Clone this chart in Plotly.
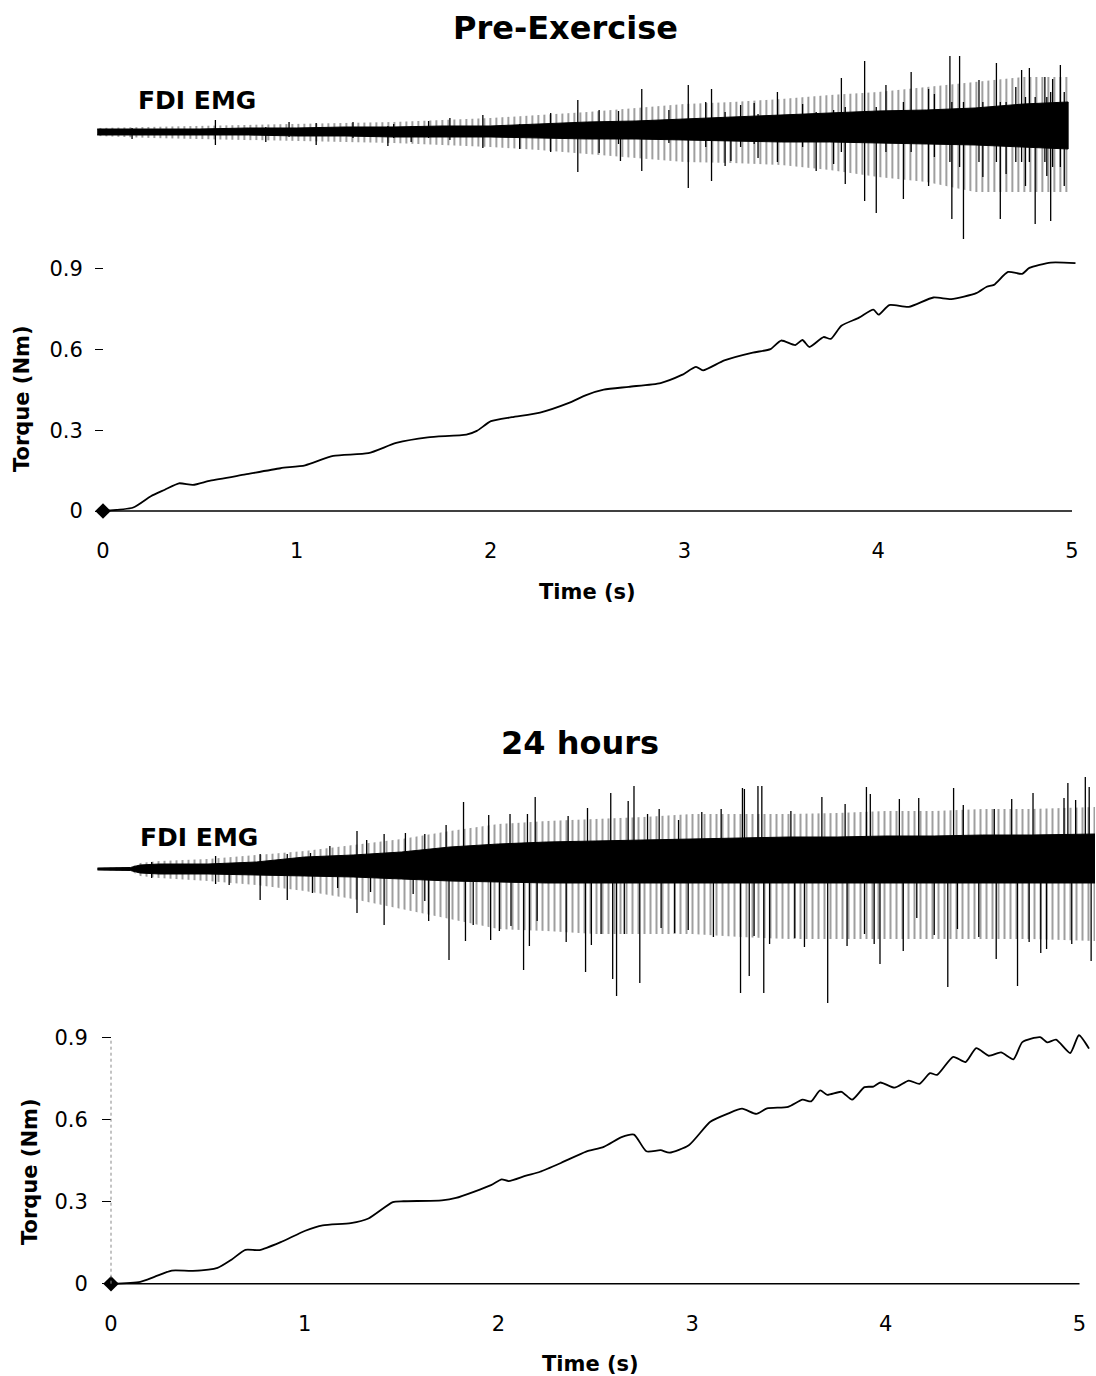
import plotly.graph_objects as go

W, H = 1096, 1376

# ---------------- Torque traces (Nm vs s) ----------------
pre_t = [0, 0.156, 0.247, 0.319, 0.392, 0.464, 0.554, 0.735, 0.916, 1.043,
         1.188, 1.369, 1.513, 1.676, 1.875, 1.929, 2.002, 2.11, 2.255, 2.401,
         2.493, 2.584, 2.713, 2.877, 2.987, 3.06, 3.096, 3.206, 3.353, 3.444,
         3.499, 3.572, 3.609, 3.645, 3.718, 3.755, 3.81, 3.901, 3.975, 4.002,
         4.057, 4.158, 4.285, 4.377, 4.506, 4.56, 4.597, 4.67, 4.743, 4.78,
         4.89, 5.018]
pre_torque = [0, 0.013, 0.055, 0.079, 0.103, 0.097, 0.113, 0.136, 0.159, 0.170,
              0.205, 0.215, 0.253, 0.274, 0.284, 0.298, 0.334, 0.349, 0.366, 0.401,
              0.431, 0.451, 0.462, 0.476, 0.506, 0.536, 0.523, 0.560, 0.589, 0.602,
              0.634, 0.617, 0.636, 0.610, 0.647, 0.640, 0.689, 0.719, 0.749, 0.730,
              0.766, 0.759, 0.794, 0.788, 0.810, 0.834, 0.841, 0.889, 0.882, 0.904,
              0.924, 0.922]

h24_t = [0, 0.151, 0.224, 0.314, 0.423, 0.55, 0.622, 0.694, 0.767, 0.876,
         1.003, 1.093, 1.238, 1.329, 1.455, 1.51, 1.708, 1.781, 1.962, 2.017,
         2.053, 2.143, 2.215, 2.325, 2.453, 2.544, 2.636, 2.70, 2.764, 2.837,
         2.883, 2.983, 3.094, 3.185, 3.258, 3.332, 3.387, 3.496, 3.57, 3.615,
         3.661, 3.698, 3.771, 3.826, 3.89, 3.936, 3.972, 4.045, 4.119, 4.174,
         4.228, 4.265, 4.348, 4.412, 4.467, 4.531, 4.595, 4.659, 4.705, 4.797,
         4.833, 4.879, 4.952, 4.997, 5.049]
h24_torque = [0, 0.007, 0.025, 0.048, 0.047, 0.058, 0.088, 0.124, 0.123, 0.152,
              0.194, 0.214, 0.222, 0.239, 0.299, 0.302, 0.305, 0.314, 0.361, 0.382,
              0.376, 0.396, 0.410, 0.443, 0.484, 0.501, 0.537, 0.546, 0.485, 0.489,
              0.480, 0.507, 0.593, 0.623, 0.641, 0.622, 0.642, 0.648, 0.674, 0.668,
              0.708, 0.692, 0.703, 0.674, 0.720, 0.722, 0.737, 0.718, 0.744, 0.732,
              0.771, 0.765, 0.831, 0.812, 0.863, 0.835, 0.847, 0.822, 0.885, 0.903,
              0.884, 0.894, 0.845, 0.910, 0.861]

# ---------------- FDI EMG (arbitrary units) ----------------
# dense core and hair-zone envelopes
pre_env_t = [-0.03, 0.25, 0.5, 0.75, 1.0, 1.25, 1.5, 1.75, 2.0, 2.25, 2.5,
             2.75, 3.0, 3.25, 3.5, 3.75, 4.0, 4.25, 4.5, 4.75, 4.98]
pre_core_hi = [3, 3, 3, 4, 4, 5, 5, 6, 6, 8, 10, 11, 13, 15, 17, 19, 21, 22, 24, 28, 30]
pre_core_lo = [-3, -3, -3, -3, -4, -4, -5, -5, -5, -6, -7, -7, -8, -9, -10, -10, -11, -12, -13, -15, -17]
pre_hair_hi = [4, 5, 6, 7, 8, 9, 10, 12, 14, 17, 20, 24, 28, 30, 33, 37, 40, 45, 50, 55, 55]
pre_hair_lo = [-4, -6, -7, -8, -9, -10, -11, -13, -15, -18, -22, -26, -30, -31, -33, -38, -45, -50, -60, -60, -60]

# individual large deflections
pre_spike_t = [0.15, 0.58, 0.84, 0.96, 1.10, 1.29, 1.47, 1.50, 1.59, 1.68,
               1.79, 1.96, 2.15, 2.31, 2.45, 2.56, 2.66, 2.67, 2.78, 2.92,
               3.02, 3.11, 3.14, 3.21, 3.24, 3.29, 3.36, 3.38, 3.48, 3.61,
               3.68, 3.77, 3.81, 3.83, 3.93, 3.99, 4.04, 4.13, 4.17, 4.26,
               4.29, 4.37, 4.38, 4.42, 4.44, 4.52, 4.54, 4.61, 4.63, 4.66,
               4.71, 4.74, 4.76, 4.78, 4.81, 4.86, 4.87, 4.89, 4.90, 4.94, 4.96]
pre_spike_up = [4, 12, 5, 10, 9, 10, 6, 8, 6, 11,
                14, 17, 8, 19, 32, 22, 21, 10, 43, 22,
                47, 30, 43, 20, 15, 27, 29, 18, 40, 28,
                20, 22, 54, 25, 71, 25, 47, 30, 60, 43,
                38, 76, 30, 76, 30, 52, 30, 69, 30, 30,
                45, 62, 35, 64, 35, 55, 35, 40, 53, 67, 40]
pre_spike_dn = [-7, -13, -10, -5, -13, -6, -14, -6, -10, -6,
                -8, -16, -17, -20, -40, -21, -12, -29, -39, -11,
                -56, -15, -49, -34, -29, -15, -12, -26, -30, -15,
                -39, -32, -20, -52, -69, -81, -20, -67, -20, -54,
                -25, -30, -87, -35, -107, -30, -45, -30, -87, -42,
                -30, -30, -54, -30, -92, -30, -44, -89, -35, -35, -54]

h24_env_t = [-0.07, 0.1, 0.15, 0.25, 0.5, 0.75, 1.0, 1.25, 1.5, 1.75, 2.0, 2.25,
             2.5, 2.75, 3.0, 3.25, 3.5, 3.75, 4.0, 4.25, 4.5, 4.75, 5.08]
h24_core_hi = [1, 1.5, 4, 5, 5, 7, 12, 14, 17, 22, 25, 27, 28, 29, 30, 31, 32, 32, 33, 33, 34, 34, 35]
h24_core_lo = [-1, -1.5, -4, -5, -5, -6, -7, -8, -10, -12, -13, -14, -14, -14, -14, -14, -14, -14, -14, -14, -14, -14, -14]
h24_hair_hi = [1, 2, 6, 8, 10, 14, 18, 24, 30, 38, 45, 48, 50, 52, 55, 55, 55, 56, 58, 58, 60, 60, 62]
h24_hair_lo = [-1, -2, -7, -9, -12, -16, -22, -30, -40, -50, -60, -62, -65, -65, -65, -68, -70, -70, -70, -70, -70, -70, -72]

h24_up_t = [0.21, 0.54, 0.77, 0.91, 1.03, 1.13, 1.27, 1.32, 1.41, 1.52,
            1.62, 1.73, 1.82, 1.95, 2.06, 2.15, 2.19, 2.36, 2.46, 2.58,
            2.67, 2.70, 2.77, 2.83, 2.93, 3.05, 3.15, 3.26, 3.27, 3.34,
            3.36, 3.51, 3.67, 3.79, 3.90, 3.92, 4.07, 4.17, 4.35, 4.40,
            4.56, 4.65, 4.76, 4.92, 4.94, 4.98, 5.03, 5.05]
h24_up_v = [7, 13, 15, 15, 16, 23, 38, 29, 35, 36,
            35, 44, 67, 54, 55, 55, 72, 53, 61, 76,
            68, 83, 55, 60, 49, 57, 60, 81, 80, 83,
            83, 58, 72, 65, 82, 75, 70, 71, 81, 64,
            60, 70, 76, 71, 86, 69, 92, 82]
h24_dn_t = [0.21, 0.54, 0.61, 0.77, 0.91, 1.04, 1.17, 1.27, 1.34, 1.41,
            1.56, 1.62, 1.64, 1.745, 1.83, 1.87, 1.96, 2.005, 2.065, 2.13,
            2.16, 2.20, 2.35, 2.45, 2.48, 2.53, 2.59, 2.61, 2.65, 2.73,
            2.84, 2.91, 2.98, 3.11, 3.25, 3.295, 3.32, 3.37, 3.40, 3.53,
            3.58, 3.70, 3.80, 3.89, 3.94, 3.97, 4.09, 4.16, 4.25, 4.32,
            4.37, 4.48, 4.57, 4.68, 4.74, 4.80, 4.83, 4.96, 5.06]
h24_dn_v = [-9, -15, -16, -31, -31, -24, -19, -44, -23, -56,
            -25, -32, -52, -91, -72, -56, -71, -62, -57, -101,
            -77, -52, -73, -103, -76, -65, -110, -127, -65, -114,
            -59, -64, -61, -68, -124, -107, -67, -124, -75, -69,
            -78, -134, -77, -65, -75, -95, -82, -49, -66, -118,
            -60, -68, -90, -117, -73, -84, -80, -75, -92]

x_ticks = [0, 1, 2, 3, 4, 5]
y_ticks = [0, 0.3, 0.6, 0.9]
y_ticktext = ["0", "0.3", "0.6", "0.9"]

FONT = "DejaVu Sans"


def band(t, hi, lo):
    return list(t) + list(t)[::-1], list(hi) + list(lo)[::-1]


def segs(ts, v0, v1):
    xs, ys = [], []
    for t, a, b in zip(ts, v0, v1):
        xs += [t, t, None]
        ys += [a, b, None]
    return xs, ys


HAIR = dict(shape="|", fgcolor="black", bgcolor="rgba(255,255,255,0)", size=6, solidity=0.25)

fig = go.Figure()

# ---- Pre-Exercise EMG ----
bx, by = band(pre_env_t, pre_hair_hi, pre_hair_lo)
fig.add_trace(go.Scatter(x=bx, y=by, fill="toself", fillcolor="rgba(0,0,0,0)", fillpattern=HAIR,
                         line=dict(width=0), mode="lines", xaxis="x2", yaxis="y2", hoverinfo="skip"))
bx, by = band(pre_env_t, pre_core_hi, pre_core_lo)
fig.add_trace(go.Scatter(x=bx, y=by, fill="toself", fillcolor="black",
                         line=dict(width=1, color="black"), mode="lines", xaxis="x2", yaxis="y2", hoverinfo="skip"))
sx, sy = segs(pre_spike_t, pre_spike_dn, pre_spike_up)
fig.add_trace(go.Scatter(x=sx, y=sy, mode="lines", line=dict(color="black", width=1.3),
                         xaxis="x2", yaxis="y2", hoverinfo="skip"))

# ---- Pre-Exercise torque ----
fig.add_trace(go.Scatter(x=pre_t, y=pre_torque, mode="lines",
                         line=dict(color="black", width=1.8, shape="spline", smoothing=0.6),
                         xaxis="x", yaxis="y"))
fig.add_trace(go.Scatter(x=[pre_t[0]], y=[pre_torque[0]], mode="markers",
                         marker=dict(symbol="diamond", size=12, color="black"),
                         xaxis="x", yaxis="y"))

# ---- 24 hours EMG ----
bx, by = band(h24_env_t, h24_hair_hi, h24_hair_lo)
fig.add_trace(go.Scatter(x=bx, y=by, fill="toself", fillcolor="rgba(0,0,0,0)", fillpattern=HAIR,
                         line=dict(width=0), mode="lines", xaxis="x4", yaxis="y4", hoverinfo="skip"))
bx, by = band(h24_env_t, h24_core_hi, h24_core_lo)
fig.add_trace(go.Scatter(x=bx, y=by, fill="toself", fillcolor="black",
                         line=dict(width=1, color="black"), mode="lines", xaxis="x4", yaxis="y4", hoverinfo="skip"))
sx, sy = segs(h24_up_t, [0] * len(h24_up_t), h24_up_v)
sx2, sy2 = segs(h24_dn_t, [0] * len(h24_dn_t), h24_dn_v)
fig.add_trace(go.Scatter(x=sx + sx2, y=sy + sy2, mode="lines", line=dict(color="black", width=1.3),
                         xaxis="x4", yaxis="y4", hoverinfo="skip"))

# ---- 24 hours torque ----
fig.add_trace(go.Scatter(x=h24_t, y=h24_torque, mode="lines",
                         line=dict(color="black", width=1.8, shape="spline", smoothing=0.6),
                         xaxis="x3", yaxis="y3"))
fig.add_trace(go.Scatter(x=[h24_t[0]], y=[h24_torque[0]], mode="markers",
                         marker=dict(symbol="diamond", size=12, color="black"),
                         xaxis="x3", yaxis="y3"))

tickfont = dict(family=FONT, size=21, color="black")
hidden = dict(visible=False, showgrid=False, zeroline=False)

xcommon = dict(showgrid=False, zeroline=False, showline=False, ticks="",
               tickvals=x_ticks, tickfont=tickfont, ticklabelstandoff=12)
ycommon = dict(showgrid=False, zeroline=False, showline=False, ticks="outside",
               tickcolor="black", tickwidth=1, tickvals=y_ticks, ticktext=y_ticktext,
               tickfont=tickfont, anchor="free")

top_xdom = [91.37 / W, 1083.63 / W]
bot_xdom = [95.5 / W, 1095.0 / W]

fig.update_layout(
    width=W, height=H, autosize=False,
    margin=dict(l=0, r=0, t=0, b=0),
    paper_bgcolor="white", plot_bgcolor="rgba(0,0,0,0)",
    showlegend=False,
    xaxis=dict(domain=top_xdom, range=[-0.06, 5.06], anchor="y", **xcommon),
    yaxis=dict(domain=[0.61886, 0.82405], range=[-0.05, 1.0], position=103 / W,
               ticklen=8, ticklabelstandoff=8, **ycommon),
    xaxis2=dict(domain=top_xdom, range=[-0.06, 5.06], anchor="y2", **hidden),
    yaxis2=dict(domain=[0.82413, 0.96948], range=[-110, 90], anchor="x2", **hidden),
    xaxis3=dict(domain=bot_xdom, range=[-0.08, 5.08], anchor="y3", **xcommon),
    yaxis3=dict(domain=[0.05716, 0.26548], range=[-0.05, 1.0], position=111 / W,
                ticklen=9, ticklabelstandoff=10, **ycommon),
    xaxis4=dict(domain=bot_xdom, range=[-0.08, 5.08], anchor="y4", **hidden),
    yaxis4=dict(domain=[0.26672, 0.44113], range=[-140, 100], anchor="x4", **hidden),
)

# axis baselines and the dotted y-axis of the lower panel
fig.add_shape(type="line", xref="x", yref="y", x0=0, x1=5, y0=0, y1=0,
              line=dict(color="black", width=1.5))
fig.add_shape(type="line", xref="x3", yref="y3", x0=0, x1=5, y0=0, y1=0,
              line=dict(color="black", width=1.5))
fig.add_shape(type="line", xref="x3", yref="y3", x0=0, x1=0, y0=0, y1=0.9,
              line=dict(color="#888888", width=1, dash="dot"))


def ann(text, px, py, size, angle=0):
    fig.add_annotation(text=text, x=px / W, y=1 - py / H, xref="paper", yref="paper",
                       xanchor="center", yanchor="middle", showarrow=False, textangle=angle,
                       font=dict(family=FONT, size=size, color="black"))


ann("<b>Pre-Exercise</b>", 565, 28, 32)
ann("<b>24 hours</b>", 580, 743, 32)
ann("<b>FDI EMG</b>", 197, 100, 25)
ann("<b>FDI EMG</b>", 199, 837, 25)
ann("<b>Torque (Nm)</b>", 22, 399, 21, -90)
ann("<b>Torque (Nm)</b>", 30, 1172, 21, -90)
ann("<b>Time (s)</b>", 587, 592, 21)
ann("<b>Time (s)</b>", 590, 1364, 21)

fig.write_html("out.html")
